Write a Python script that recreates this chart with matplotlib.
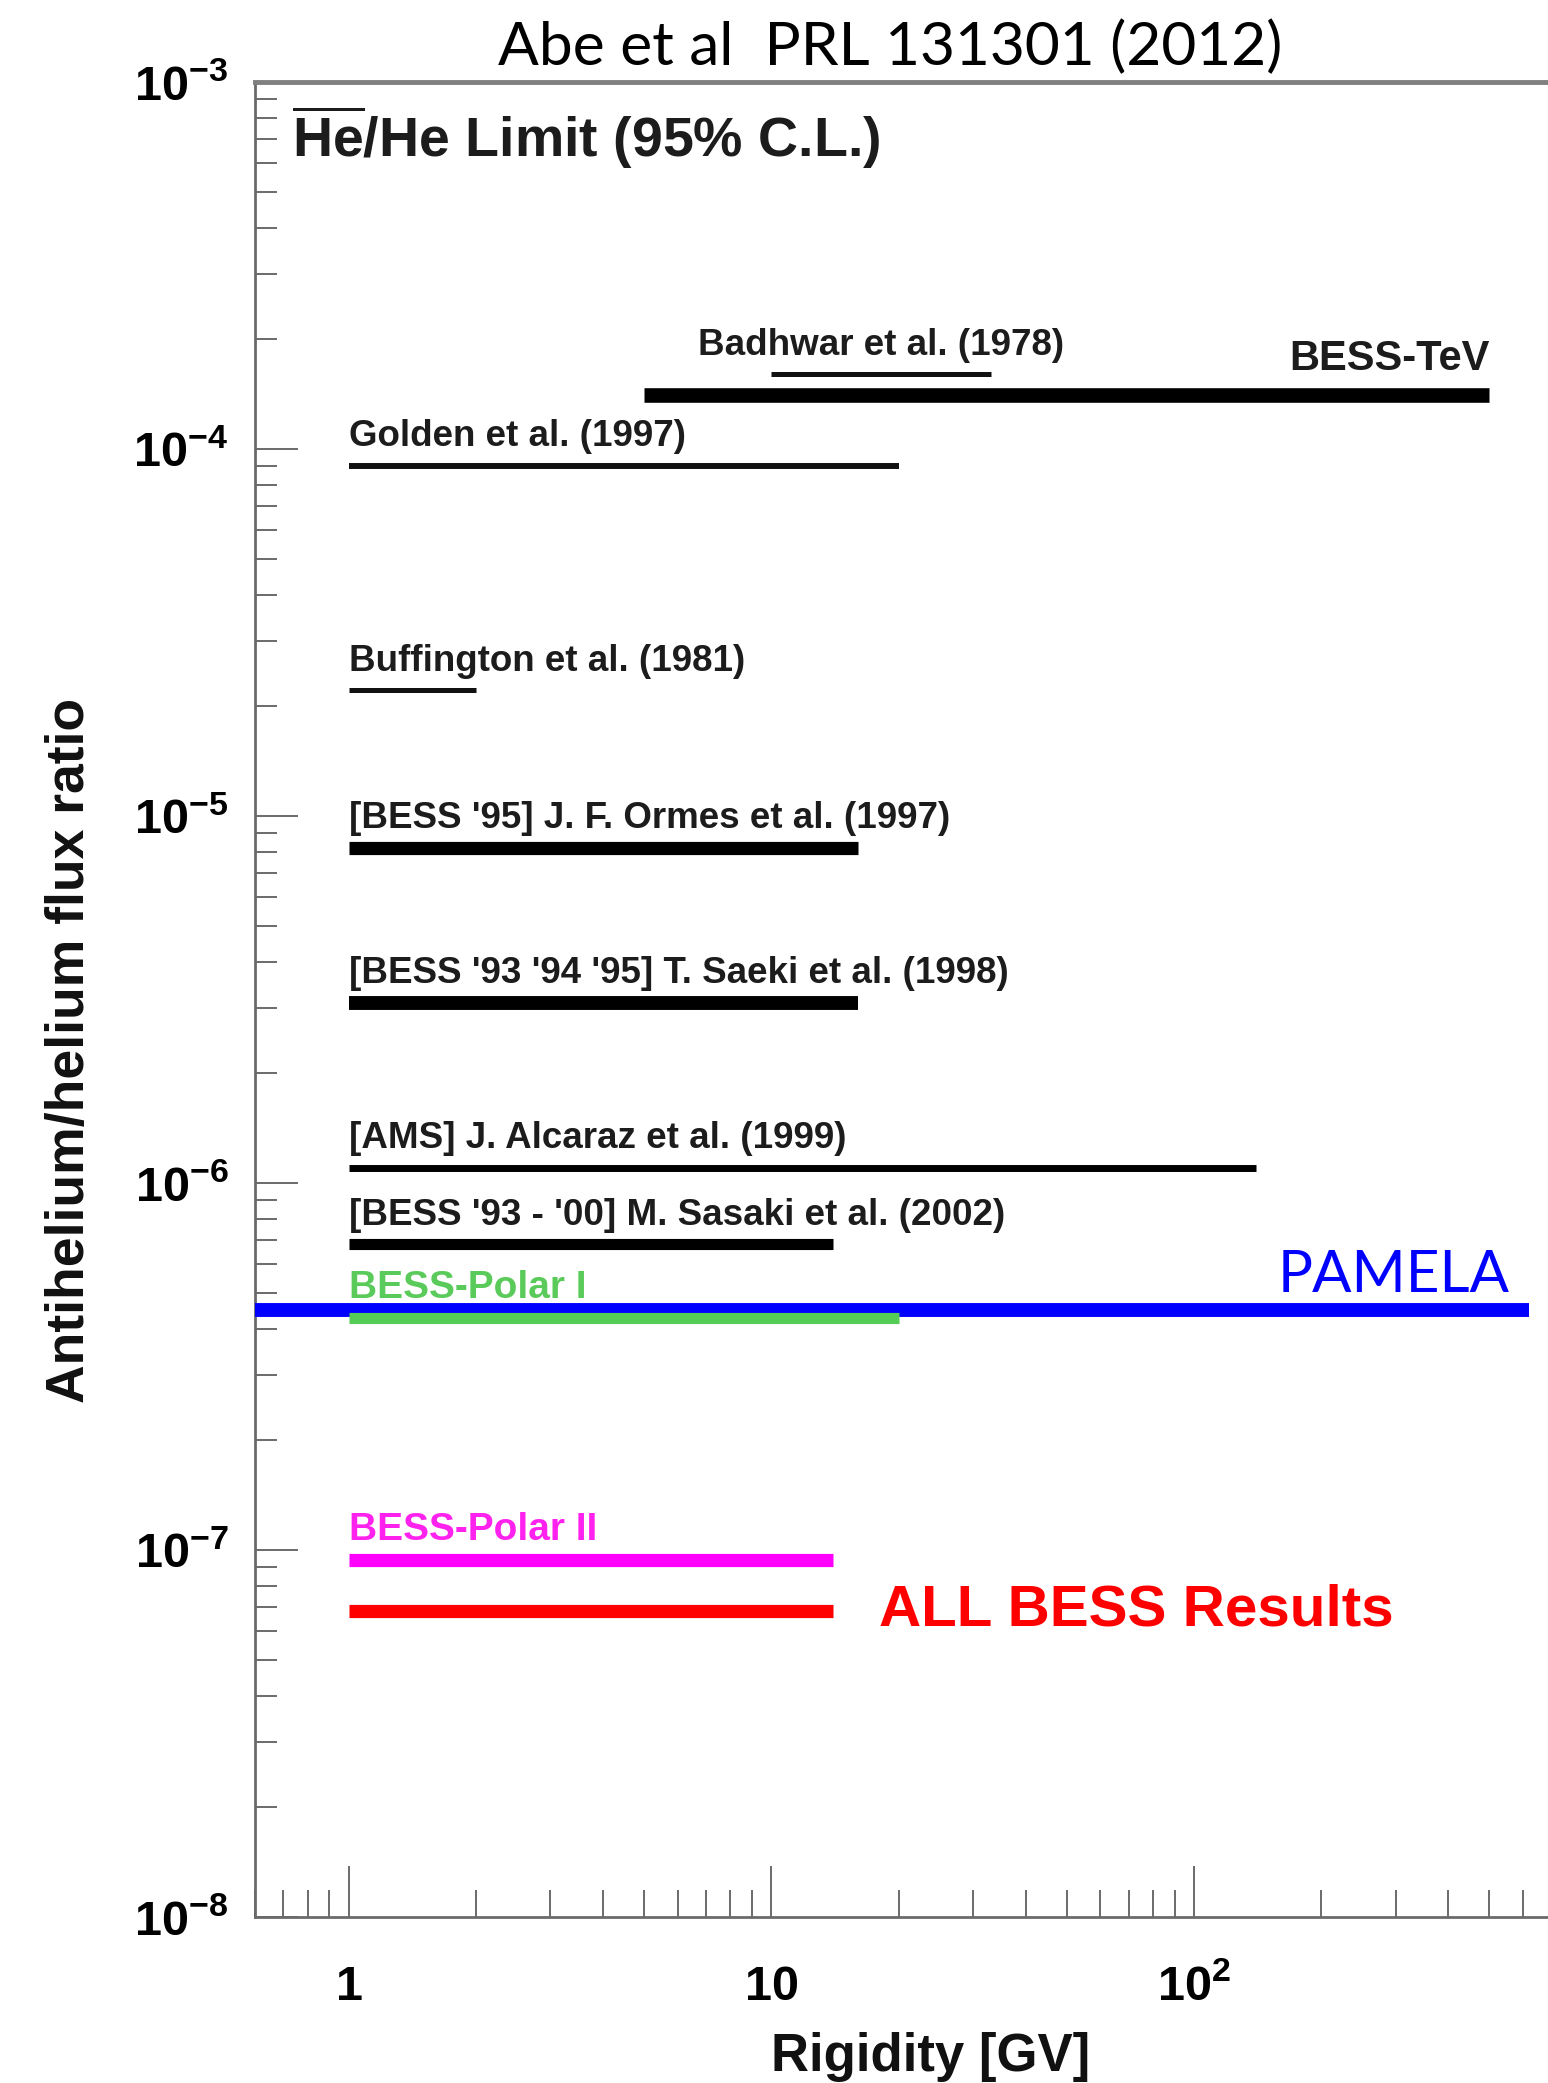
import matplotlib
matplotlib.use('Agg')
import matplotlib.pyplot as plt
from matplotlib.ticker import LogLocator, NullFormatter

plt.rcParams['font.family'] = ['Liberation Sans', 'DejaVu Sans']
plt.rcParams['mathtext.fontset'] = 'custom'
plt.rcParams['mathtext.rm'] = 'Liberation Sans:bold'
plt.rcParams['mathtext.it'] = 'Liberation Sans:bold'
plt.rcParams['mathtext.bf'] = 'Liberation Sans:bold'

# ---------------- data ----------------
experiments = [
    "Badhwar et al. (1978)",
    "BESS-TeV",
    "Golden et al. (1997)",
    "Buffington et al. (1981)",
    "[BESS '95] J. F. Ormes et al. (1997)",
    "[BESS '93 '94 '95] T. Saeki et al. (1998)",
    "[AMS] J. Alcaraz et al. (1999)",
    "[BESS '93 - '00] M. Sasaki et al. (2002)",
    "PAMELA",
    "BESS-Polar I",
    "BESS-Polar II",
    "ALL BESS Results",
]
rigidity_min = [10, 5, 1, 1, 1, 1, 1, 1, 0.6, 1, 1, 1]
rigidity_max = [33, 500, 20, 2, 16, 16, 140, 14, 620, 20, 14, 14]
ratio_limit = [1.6e-4, 1.4e-4, 9.0e-5, 2.2e-5, 8.2e-6, 3.1e-6,
               1.1e-6, 6.8e-7, 4.5e-7, 4.3e-7, 9.4e-8, 6.8e-8]

x_ticks = [1, 10, 100]
x_ticklabels = [r'$1$', r'$10$', r'$10^{2}$']
y_ticks = [1e-8, 1e-7, 1e-6, 1e-5, 1e-4, 1e-3]
y_ticklabels = [r'$10^{-8}$', r'$10^{-7}$', r'$10^{-6}$', r'$10^{-5}$',
                r'$10^{-4}$', r'$10^{-3}$']

# ---------------- styles ----------------
# (color, linewidth, label mode, label color, label font, label size, weight)
DARK = '#1c1c1c'
styles = {
    "Badhwar et al. (1978)": ('#111111', 3.6, 'center', DARK, 'Liberation Sans', 26.5, 'bold'),
    "BESS-TeV": ('#000000', 10.5, 'right', DARK, 'Liberation Sans', 30, 'bold'),
    "Golden et al. (1997)": ('#111111', 4.3, 'left', DARK, 'Liberation Sans', 26.5, 'bold'),
    "Buffington et al. (1981)": ('#111111', 3.6, 'left', DARK, 'Liberation Sans', 26.5, 'bold'),
    "[BESS '95] J. F. Ormes et al. (1997)": ('#000000', 9.5, 'left', DARK, 'Liberation Sans', 26.5, 'bold'),
    "[BESS '93 '94 '95] T. Saeki et al. (1998)": ('#000000', 10.0, 'left', DARK, 'Liberation Sans', 26.5, 'bold'),
    "[AMS] J. Alcaraz et al. (1999)": ('#000000', 5.0, 'left', DARK, 'Liberation Sans', 26.5, 'bold'),
    "[BESS '93 - '00] M. Sasaki et al. (2002)": ('#000000', 8.0, 'left', DARK, 'Liberation Sans', 26.5, 'bold'),
    "PAMELA": ('#0000ff', 10.0, 'pamela', '#0000ff', 'Lato', 42, 'normal'),
    "BESS-Polar I": ('#55cc55', 8.0, 'left', '#5acb5a', 'Liberation Sans', 28, 'bold'),
    "BESS-Polar II": ('#ff00ff', 9.5, 'left', '#ff22ee', 'Liberation Sans', 28, 'bold'),
    "ALL BESS Results": ('#ff0000', 9.5, 'after', '#ff0000', 'Liberation Sans', 42, 'bold'),
}

W, H = 1548, 2083
fig = plt.figure(figsize=(W / 100, H / 100), dpi=100)
ax = fig.add_axes([255 / W, 1 - 1917 / H, 1 - 255 / W, (1917 - 82) / H])
ax.set_xscale('log')
ax.set_yscale('log')
ax.set_xlim(0.6, 688)
ax.set_ylim(1e-8, 1e-3)

for name, lo, hi, v in zip(experiments, rigidity_min, rigidity_max, ratio_limit):
    col, lw, mode, tcol, fam, fs, fw = styles[name]
    ax.plot([lo, hi], [v, v], color=col, lw=lw, solid_capstyle='butt', zorder=3)
    kw = dict(color=tcol, fontsize=fs, fontweight=fw, family=[fam, 'DejaVu Sans'],
              textcoords='offset points', va='baseline', zorder=4)
    if mode == 'left':
        ax.annotate(name, (lo, v), xytext=(0, 14), ha='left', **kw)
    elif mode == 'center':
        ax.annotate(name, ((lo * hi) ** 0.5, v), xytext=(0, 14), ha='center', **kw)
    elif mode == 'right':
        ax.annotate(name, (hi, v), xytext=(0, 18), ha='right', **kw)
    elif mode == 'pamela':
        ax.annotate(name, (hi, v), xytext=(-14, 13), ha='right', **kw)
    elif mode == 'after':
        kw['va'] = 'center'
        ax.annotate(name, (hi, v), xytext=(33, 1), ha='left', **kw)

# header text with anti-helium overbar
ax.text(0.733, 6.25e-4, r'$\overline{\mathrm{He}}$/He Limit (95% C.L.)',
        fontsize=40, fontweight='bold', color=DARK, va='baseline', ha='left')

# axes styling
spine_col = '#6a6a6a'
ax.spines['right'].set_visible(False)
ax.spines['top'].set_color('#808080')
ax.spines['top'].set_linewidth(3.5)
ax.spines['left'].set_color(spine_col)
ax.spines['left'].set_linewidth(2)
ax.spines['bottom'].set_color(spine_col)
ax.spines['bottom'].set_linewidth(2)

ax.set_xticks(x_ticks)
ax.set_xticklabels(x_ticklabels)
ax.set_yticks(y_ticks)
ax.set_yticklabels(y_ticklabels)
ax.xaxis.set_minor_locator(LogLocator(base=10, subs=range(2, 10), numticks=20))
ax.yaxis.set_minor_locator(LogLocator(base=10, subs=range(2, 10), numticks=20))
ax.xaxis.set_minor_formatter(NullFormatter())
ax.yaxis.set_minor_formatter(NullFormatter())

ax.tick_params(axis='x', which='major', direction='in', length=37, width=1.4,
               color=spine_col, labelsize=35, pad=60, top=False)
ax.tick_params(axis='x', which='minor', direction='in', length=19.5, width=1.4,
               color=spine_col, top=False)
ax.tick_params(axis='y', which='major', direction='in', length=31, width=1.4,
               color=spine_col, labelsize=35, pad=19, right=False)
ax.tick_params(axis='y', which='minor', direction='in', length=16, width=1.4,
               color=spine_col, right=False)
for lbl in ax.get_xticklabels():
    lbl.set_va('baseline')

# axis labels and title
fig.text(70 / W, 1 - 1050 / H, 'Antihelium/helium flux ratio', rotation=90,
         ha='center', va='center', fontsize=38.5, fontweight='bold', color='#111111')
fig.text(931 / W, 1 - 2071 / H, 'Rigidity [GV]', ha='center', va='baseline',
         fontsize=38, fontweight='bold', color='#111111')
fig.text(890 / W, 1 - 65 / H, 'Abe et al  PRL 131301 (2012)', ha='center', va='baseline',
         fontsize=43.5, family=['Lato', 'DejaVu Sans'], color='black')

fig.savefig('out.png', dpi=100)
